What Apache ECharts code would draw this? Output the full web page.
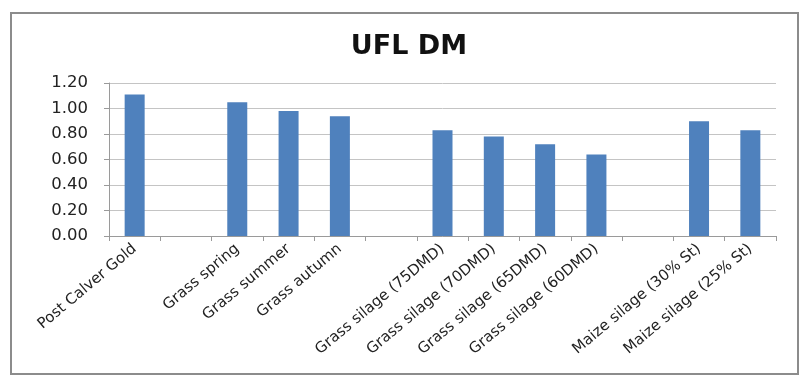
<!DOCTYPE html>
<html>
<head>
<meta charset="utf-8">
<script src="https://cdn.jsdelivr.net/npm/echarts@6/dist/echarts.min.js"></script>
<style>html,body{margin:0;padding:0;background:#fff;}#c{width:812px;height:390px;}</style>
</head>
<body>
<div id="c"></div>
<script>
var categories = ['Post Calver Gold', '', 'Grass spring', 'Grass summer', 'Grass autumn', '',
  'Grass silage (75DMD)', 'Grass silage (70DMD)', 'Grass silage (65DMD)', 'Grass silage (60DMD)', '',
  'Maize silage (30% St)', 'Maize silage (25% St)'];
var values = [1.11, null, 1.05, 0.98, 0.94, null, 0.83, 0.78, 0.72, 0.64, null, 0.90, 0.83];
var yTicks = { min: 0, max: 1.2, interval: 0.2 };

var chart = echarts.init(document.getElementById('c'));
chart.setOption({
  animation: false,
  title: {
    text: 'UFL DM', left: 404, top: 28, textAlign: 'center',
    textStyle: { fontFamily: 'DejaVu Sans', fontWeight: 'bold', fontSize: 27, color: '#111' }
  },
  graphic: [{
    type: 'rect', shape: { x: 11, y: 13, width: 787, height: 361 },
    style: { fill: 'none', stroke: '#8c8c8c', lineWidth: 2 }, z: 100
  }],
  grid: { left: 109, right: 36, top: 83, height: 153 },
  xAxis: {
    type: 'category', data: categories,
    axisLine: { lineStyle: { color: '#9a9a9a', width: 1 } },
    axisTick: { show: true, length: 5, interval: 0, lineStyle: { color: '#9a9a9a' } },
    axisLabel: { interval: 0, rotate: 40, margin: 11, fontFamily: 'DejaVu Sans', fontSize: 15, color: '#222' }
  },
  yAxis: {
    type: 'value', min: yTicks.min, max: yTicks.max, interval: yTicks.interval,
    axisLine: { show: true, lineStyle: { color: '#9a9a9a' } },
    axisTick: { show: true, length: 5, lineStyle: { color: '#9a9a9a' } },
    splitLine: { lineStyle: { color: '#c4c4c4' } },
    axisLabel: { margin: 21, fontFamily: 'DejaVu Sans', fontSize: 16.5, color: '#222',
      formatter: function (v) { return v.toFixed(2); } }
  },
  series: [{
    type: 'bar', data: values, barWidth: 20,
    itemStyle: { color: '#4f81bd' }
  }]
});
</script>
</body>
</html>
